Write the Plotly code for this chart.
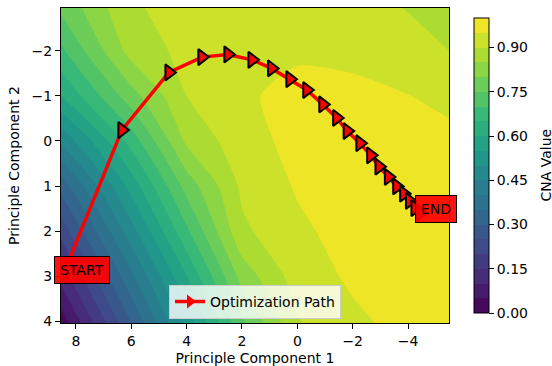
import plotly.graph_objects as go

# ---- data ----
grid_x = [8.54, 6, 4, 2, 0, -2, -4, -5.48]
grid_y = [-2.95, -2, -1, 0, 1, 2, 3, 4.04]
cna_z = [
    [0.76, 0.895, 0.915, 0.925, 0.93, 0.925, 0.897, 0.87],
    [0.69, 0.87, 0.915, 0.935, 0.945, 0.94, 0.925, 0.90],
    [0.60, 0.78, 0.90, 0.945, 0.96, 0.96, 0.951, 0.94],
    [0.46, 0.67, 0.86, 0.93, 0.965, 0.975, 0.97, 0.96],
    [0.32, 0.57, 0.77, 0.91, 0.955, 0.975, 0.98, 0.975],
    [0.22, 0.48, 0.69, 0.89, 0.94, 0.97, 0.98, 0.98],
    [0.12, 0.39, 0.60, 0.82, 0.925, 0.958, 0.975, 0.98],
    [0.02, 0.30, 0.52, 0.74, 0.895, 0.94, 0.965, 0.975],
]
path_x = [8.45, 6.34, 4.64, 3.45, 2.51, 1.64, 0.93, 0.27, -0.34, -0.92, -1.42,
          -1.80, -2.26, -2.65, -2.95, -3.29, -3.59, -3.84, -4.05, -4.25, -4.43]
path_y = [2.95, -0.24, -1.52, -1.86, -1.92, -1.80, -1.61, -1.37, -1.13, -0.81, -0.51,
          -0.22, 0.05, 0.32, 0.57, 0.80, 1.01, 1.17, 1.33, 1.49, 1.60]
cbar_ticks = [0.0, 0.15, 0.30, 0.45, 0.60, 0.75, 0.90]
x_ticks = [8, 6, 4, 2, 0, -2, -4]
y_ticks = [-2, -1, 0, 1, 2, 3, 4]
x_range = [8.54, -5.48]
y_range = [4.04, -2.95]

FONT = "DejaVu Sans"

fig = go.Figure()
fig.add_trace(go.Contour(
    x=grid_x, y=grid_y, z=cna_z,
    colorscale="Viridis", zmin=0, zmax=1,
    autocontour=False,
    contours=dict(start=0, end=1, size=0.05, coloring="fill", showlines=False),
    line=dict(width=0, smoothing=0.6),
    showscale=True,
    colorbar=dict(
        thickness=15, len=1, lenmode="fraction", y=0.5, yanchor="middle",
        x=1.064, xanchor="left", xpad=0,
        outlinecolor="black", outlinewidth=1,
        tickvals=cbar_ticks, tickformat=".2f", ticks="outside", ticklen=5,
        tickcolor="black", tickfont=dict(family=FONT, size=14, color="black"),
    ),
    showlegend=False, hoverinfo="skip",
))
# optimisation path
fig.add_trace(go.Scatter(
    x=path_x, y=path_y, mode="lines+markers", name="Optimization Path",
    line=dict(color="red", width=3.5),
    marker=dict(symbol="triangle-right", size=14, color="red",
                line=dict(color="black", width=2)),
    cliponaxis=True, showlegend=False,
))
# legend entry (red line with red arrow head, as in the reference legend)
fig.add_trace(go.Scatter(
    x=[None], y=[None], mode="lines+markers", name="Optimization Path",
    line=dict(color="red", width=3.5),
    marker=dict(symbol="triangle-right", size=12, color="red",
                line=dict(color="red", width=0)),
    showlegend=True,
))

fig.add_annotation(x=path_x[0], y=path_y[0], text="START", showarrow=False,
                   xanchor="left", yanchor="middle", xshift=-9, yshift=4,
                   font=dict(family=FONT, size=14, color="black"),
                   bgcolor="rgba(255,0,0,0.92)", bordercolor="black",
                   borderwidth=1, borderpad=5)
fig.add_annotation(x=path_x[-1], y=path_y[-1], text="END", showarrow=False,
                   xanchor="left", yanchor="middle", xshift=-5, yshift=4,
                   font=dict(family=FONT, size=14, color="black"),
                   bgcolor="rgba(255,0,0,0.92)", bordercolor="black",
                   borderwidth=1, borderpad=5)
fig.add_annotation(x=(545 - 61) / 388, y=0.5, xref="paper", yref="paper", text="CNA Value",
                   textangle=-90, showarrow=False, xanchor="center", yanchor="middle",
                   font=dict(family=FONT, size=14, color="black"))

axis_common = dict(showline=True, linecolor="black", linewidth=1, mirror=True,
                   ticks="outside", ticklen=5, tickcolor="black", showgrid=False,
                   zeroline=False, automargin=False,
                   tickfont=dict(family=FONT, size=14, color="black"))
fig.update_xaxes(range=x_range, tickvals=x_ticks,
                 title=dict(text="Principle Component 1", standoff=8,
                            font=dict(family=FONT, size=14, color="black")),
                 **axis_common)
fig.update_yaxes(range=y_range, tickvals=y_ticks,
                 title=dict(text="Principle Component 2", standoff=8,
                            font=dict(family=FONT, size=14, color="black")),
                 **axis_common)

fig.update_layout(
    width=552, height=366,
    margin=dict(l=61, r=103, t=8, b=43),
    paper_bgcolor="white", plot_bgcolor="white",
    font=dict(family=FONT, size=14, color="black"),
    showlegend=True,
    legend=dict(x=0.5, xanchor="center", y=0.013, yanchor="bottom",
                bgcolor="rgba(255,255,255,0.8)", bordercolor="#cccccc", borderwidth=1,
                font=dict(family=FONT, size=14, color="black"),
                itemwidth=30, tracegroupgap=0),
)

fig.write_html("out.html")
